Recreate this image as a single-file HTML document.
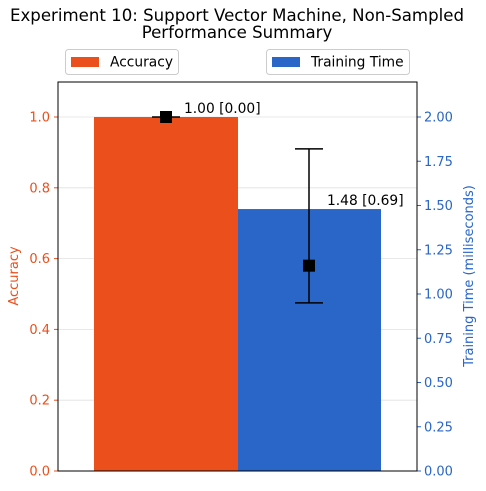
<!DOCTYPE html>
<html><head><meta charset="utf-8"><style>
body{margin:0;background:#fff;font-family:"Liberation Sans","DejaVu Sans",sans-serif}
text{font-family:"DejaVu Sans","Liberation Sans",sans-serif}
</style></head><body>
<svg id="chart" width="486" height="486" xmlns="http://www.w3.org/2000/svg">
<text x="237" y="21" font-size="16.6" text-anchor="middle">Experiment 10: Support Vector Machine, Non-Sampled</text>
<text x="237" y="38" font-size="16.6" text-anchor="middle">Performance Summary</text>
<g>
<rect x="65.5" y="49.5" width="113" height="25" rx="3" fill="#fff" stroke="#ccc"/>
<rect x="71" y="57" width="28" height="10" fill="#eb4f1c"/>
<text x="110" y="66.5" font-size="13.8">Accuracy</text></g>
<g>
<rect x="266.5" y="49.5" width="143" height="25" rx="3" fill="#fff" stroke="#ccc"/>
<rect x="272" y="57" width="28" height="10" fill="#2966c8"/>
<text x="311" y="66.5" font-size="13.8">Training Time</text></g>
<g id="plot"></g>
</svg>
<script>
const leftTicks=[0,0.2,0.4,0.6,0.8,1.0];
const rightTicks=[0,0.25,0.5,0.75,1.0,1.25,1.5,1.75,2.0];
const accValue=[1.00];
const accStd=[0.00];
const accMarker=[1.00];
const accErr=[0.0];
const timeValue=[1.48];
const timeStd=[0.69];
const timeMarker=[1.16];
const timeErrLow=[0.95];
const timeErrHigh=[1.82];
const X0=58,X1=417,Y0=471,YT=82;
const yL=v=>Y0-v*354;
const yR=v=>Y0-v*177;
const ns="http://www.w3.org/2000/svg";
const g=document.getElementById('plot');
function mk(t,a,p){const e=document.createElementNS(ns,t);for(const k in a)e.setAttribute(k,a[k]);(p||g).appendChild(e);return e;}
leftTicks.forEach(v=>{
 const gl=mk('line',{x1:X0,x2:X1,y1:yL(v),y2:yL(v),stroke:'#e0e0e0','stroke-width':0.8});
 
 
 mk('line',{x1:X0-4,x2:X0,y1:yL(v),y2:yL(v),stroke:'#eb4f1c'});
 const t=mk('text',{x:X0-8,y:yL(v)+4.5,'font-size':13,'text-anchor':'end',fill:'#eb4f1c'});
 t.textContent=v.toFixed(1);
 
 
});
rightTicks.forEach(v=>{
 mk('line',{x1:X1,x2:X1+4,y1:yR(v),y2:yR(v),stroke:'#2966c8'});
 const t=mk('text',{x:X1+7,y:yR(v)+4.5,'font-size':13,fill:'#2966c8'});
 t.textContent=v.toFixed(2);
 
 
});
const b1=mk('rect',{x:94,y:yL(accValue[0]),width:144,height:Y0-yL(accValue[0]),fill:'#eb4f1c'});


const b2=mk('rect',{x:238,y:yR(timeValue[0]),width:143,height:Y0-yR(timeValue[0]),fill:'#2966c8'});


const ax=166;
mk('line',{x1:ax,x2:ax,y1:yL(accMarker[0]+accErr[0]),y2:yL(accMarker[0]-accErr[0]),stroke:'#000','stroke-width':1.5});
mk('line',{x1:ax-14,x2:ax+14,y1:yL(accMarker[0]),y2:yL(accMarker[0]),stroke:'#000','stroke-width':1.5});
const m1=mk('rect',{x:ax-6,y:yL(accMarker[0])-6,width:12,height:12,fill:'#000'});


const tx=309;
mk('line',{x1:tx,x2:tx,y1:yR(timeErrHigh[0]),y2:yR(timeErrLow[0]),stroke:'#000','stroke-width':1.5});
mk('line',{x1:tx-14,x2:tx+14,y1:yR(timeErrHigh[0]),y2:yR(timeErrHigh[0]),stroke:'#000','stroke-width':1.5});
mk('line',{x1:tx-14,x2:tx+14,y1:yR(timeErrLow[0]),y2:yR(timeErrLow[0]),stroke:'#000','stroke-width':1.5});
const m2=mk('rect',{x:tx-6,y:yR(timeMarker[0])-6,width:12,height:12,fill:'#000'});


const l1=mk('text',{x:184,y:yL(accValue[0])-4,'font-size':13.8});
l1.textContent=accValue[0].toFixed(2)+' ['+accStd[0].toFixed(2)+']';


const l2=mk('text',{x:327,y:yR(timeValue[0])-4,'font-size':13.8});
l2.textContent=timeValue[0].toFixed(2)+' ['+timeStd[0].toFixed(2)+']';


const fr=mk('rect',{x:X0,y:YT,width:X1-X0,height:Y0-YT,fill:'none',stroke:'#000','stroke-width':1});


const yt1=mk('text',{x:18,y:276,'font-size':13,fill:'#eb4f1c','text-anchor':'middle',transform:'rotate(-90 18 276)'});
yt1.textContent='Accuracy';


const yt2=mk('text',{x:473,y:276,'font-size':13,fill:'#2966c8','text-anchor':'middle',transform:'rotate(-90 473 276)'});
yt2.textContent='Training Time (milliseconds)';


</script>
</body></html>
